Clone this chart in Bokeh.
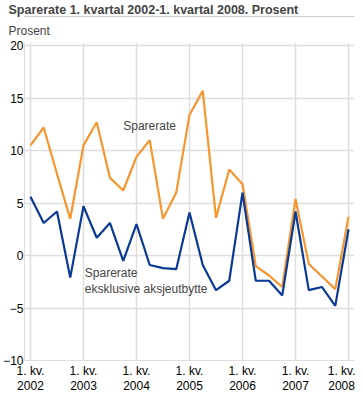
from bokeh.plotting import figure
from bokeh.models import ColumnDataSource, FixedTicker, Title, Label, Range1d, LinearAxis
from bokeh.embed import file_html
from bokeh.resources import INLINE

quarters = list(range(25))
sparerate = [10.5, 12.2, 7.8, 3.5, 10.5, 12.7, 7.4, 6.2, 9.4, 11.0, 3.5, 6.0,
             13.4, 15.7, 3.6, 8.2, 6.8, -1.0, -1.9, -3.0, 5.4, -0.8, -2.0, -3.2, 3.7]
eksklusive = [5.6, 3.1, 4.2, -2.1, 4.7, 1.7, 3.1, -0.5, 3.0, -0.9, -1.2, -1.3,
              4.1, -0.9, -3.3, -2.4, 6.0, -2.4, -2.4, -3.8, 4.2, -3.3, -3.0, -4.8, 2.5]
tick_pos = [0, 4, 8, 12, 16, 20, 24]
tick_labels = ["1. kv.\n2002", "1. kv.\n2003", "1. kv.\n2004", "1. kv.\n2005",
               "1. kv.\n2006", "1. kv.\n2007", "1. kv.\n2008"]
y_ticks = [-10, -5, 0, 5, 10, 15, 20]

FONT = "Liberation Sans"
ORANGE = "#F7962F"
BLUE = "#0A3A94"
GRID = "#dddddd"

src = ColumnDataSource(dict(q=quarters, s=sparerate, e=eksklusive))

p = figure(frame_width=330, frame_height=318, output_backend="svg", toolbar_location=None,
           x_range=Range1d(-0.45, 24.45), y_range=Range1d(-10, 20.3),
           min_border_left=0, min_border_right=1, min_border_top=0, min_border_bottom=0,
           outline_line_color=None)

p.title.text = "Sparerate 1. kvartal 2002-1. kvartal 2008. Prosent"
p.title.text_font = FONT
p.title.text_font_size = "12.5px"
p.title.text_font_style = "bold"
p.title.offset = -16
p.title.standoff = 0
p.add_layout(Title(text="Prosent", text_font=FONT, text_font_size="12px",
                   text_font_style="normal", offset=-16, standoff=10), "above")

# thin separator line below the title (an unlabelled axis)
sep = LinearAxis(ticker=FixedTicker(ticks=[]), axis_line_color="#cccccc",
                 major_tick_out=0, major_tick_in=0, minor_tick_out=0, minor_tick_in=0,
                 major_label_standoff=0, axis_label_standoff=0,
                 major_label_text_font_size="0px")
p.add_layout(sep, "above")

p.line("q", "s", source=src, line_color=ORANGE, line_width=2.2)
p.line("q", "e", source=src, line_color=BLUE, line_width=2.2)

xax = p.below[0]
yax = p.left[0]
xax.ticker = FixedTicker(ticks=tick_pos)
xax.major_label_overrides = {t: l for t, l in zip(tick_pos, tick_labels)}
yax.ticker = FixedTicker(ticks=y_ticks)
for ax in (xax, yax):
    ax.major_label_text_font = FONT
    ax.major_label_text_font_size = "12px"
    ax.major_label_text_color = "#000000"
    ax.axis_line_color = GRID
    ax.major_tick_line_color = None
    ax.minor_tick_line_color = None
    ax.major_tick_out = 0
    ax.major_tick_in = 0
    ax.minor_tick_out = 0
    ax.minor_tick_in = 0
    ax.axis_label_standoff = 0
yax.major_label_standoff = 1
xax.major_label_standoff = 3
xax.major_label_text_line_height = 1.1
p.xgrid.grid_line_color = GRID
p.ygrid.grid_line_color = GRID
p.xgrid.grid_line_width = 1.5
p.ygrid.grid_line_width = 1.5

p.add_layout(Label(x=7, y=12.3, text="Sparerate", text_font=FONT, text_font_size="12px",
                   text_baseline="middle", text_align="left"))
p.add_layout(Label(x=4.1, y=-2.4, text="Sparerate\neksklusive aksjeutbytte", text_font=FONT,
                   text_font_size="12px", text_baseline="middle", text_align="left",
                   text_line_height=1.15))

open("out.html", "w").write(file_html(p, INLINE))
